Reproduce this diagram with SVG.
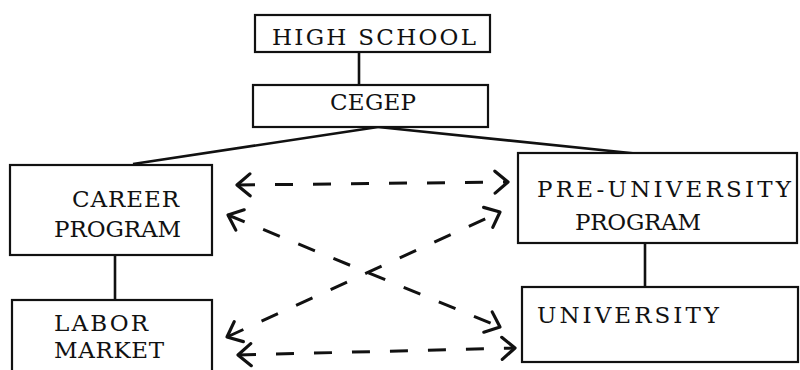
<svg xmlns="http://www.w3.org/2000/svg" width="800" height="370" viewBox="0 0 800 370">
<style>
.box{fill:#fff;stroke:#111;stroke-width:2.2}
.t{font-family:"DejaVu Serif","Liberation Serif",serif;font-size:23px;fill:#111}
.solid{stroke:#111;stroke-width:2.6;fill:none}
.dash{stroke:#111;stroke-width:3;fill:none;stroke-dasharray:18 20}
</style>
<defs>
<marker id="arr" viewBox="0 0 20 26" refX="18" refY="13" markerWidth="20" markerHeight="26" markerUnits="userSpaceOnUse" orient="auto-start-reverse">
<path d="M5,2 L18,13 L5,24" fill="none" stroke="#111" stroke-width="3.2" stroke-linecap="round" stroke-linejoin="round"/>
</marker>
</defs>
<rect width="800" height="370" fill="#fff"/>
<g id="connectors">
<line class="solid" x1="359" y1="52" x2="359" y2="85"/>
<line class="solid" x1="378" y1="127" x2="133" y2="164"/>
<line class="solid" x1="378" y1="127" x2="640" y2="154"/>
<line class="solid" x1="115" y1="255" x2="115" y2="300"/>
<line class="solid" x1="645" y1="243" x2="645" y2="287"/>
<line class="dash" x1="237" y1="185" x2="508" y2="182" marker-start="url(#arr)" marker-end="url(#arr)"/>
<line class="dash" x1="228" y1="215" x2="500" y2="327" marker-start="url(#arr)" marker-end="url(#arr)"/>
<line class="dash" x1="227" y1="337" x2="500" y2="212" marker-start="url(#arr)" marker-end="url(#arr)"/>
<line class="dash" x1="238" y1="355" x2="515" y2="348" marker-start="url(#arr)" marker-end="url(#arr)"/>
</g>
<g id="high-school">
<rect class="box" x="255" y="15" width="235" height="37"/>
<text class="t" x="272" y="45" textLength="204" lengthAdjust="spacing">HIGH SCHOOL</text>
</g>
<g id="cegep">
<rect class="box" x="253" y="85" width="235" height="42"/>
<text class="t" x="330" y="110" textLength="86" lengthAdjust="spacing">CEGEP</text>
</g>
<g id="career-program">
<rect class="box" x="10" y="165" width="202" height="90"/>
<text class="t" x="72" y="207" textLength="107" lengthAdjust="spacing">CAREER</text>
<text class="t" x="54" y="237" textLength="127" lengthAdjust="spacing">PROGRAM</text>
</g>
<g id="labor-market">
<rect class="box" x="12" y="300" width="200" height="80"/>
<text class="t" x="54" y="331" textLength="94" lengthAdjust="spacing">LABOR</text>
<text class="t" x="54" y="358" textLength="110" lengthAdjust="spacing">MARKET</text>
</g>
<g id="pre-university-program">
<rect class="box" x="518" y="153" width="279" height="90"/>
<text class="t" x="537" y="197" textLength="254" lengthAdjust="spacing">PRE-UNIVERSITY</text>
<text class="t" x="575" y="230" textLength="126" lengthAdjust="spacing">PROGRAM</text>
</g>
<g id="university">
<rect class="box" x="522" y="287" width="276" height="75"/>
<text class="t" x="537" y="323" textLength="182" lengthAdjust="spacing">UNIVERSITY</text>
</g>
</svg>
